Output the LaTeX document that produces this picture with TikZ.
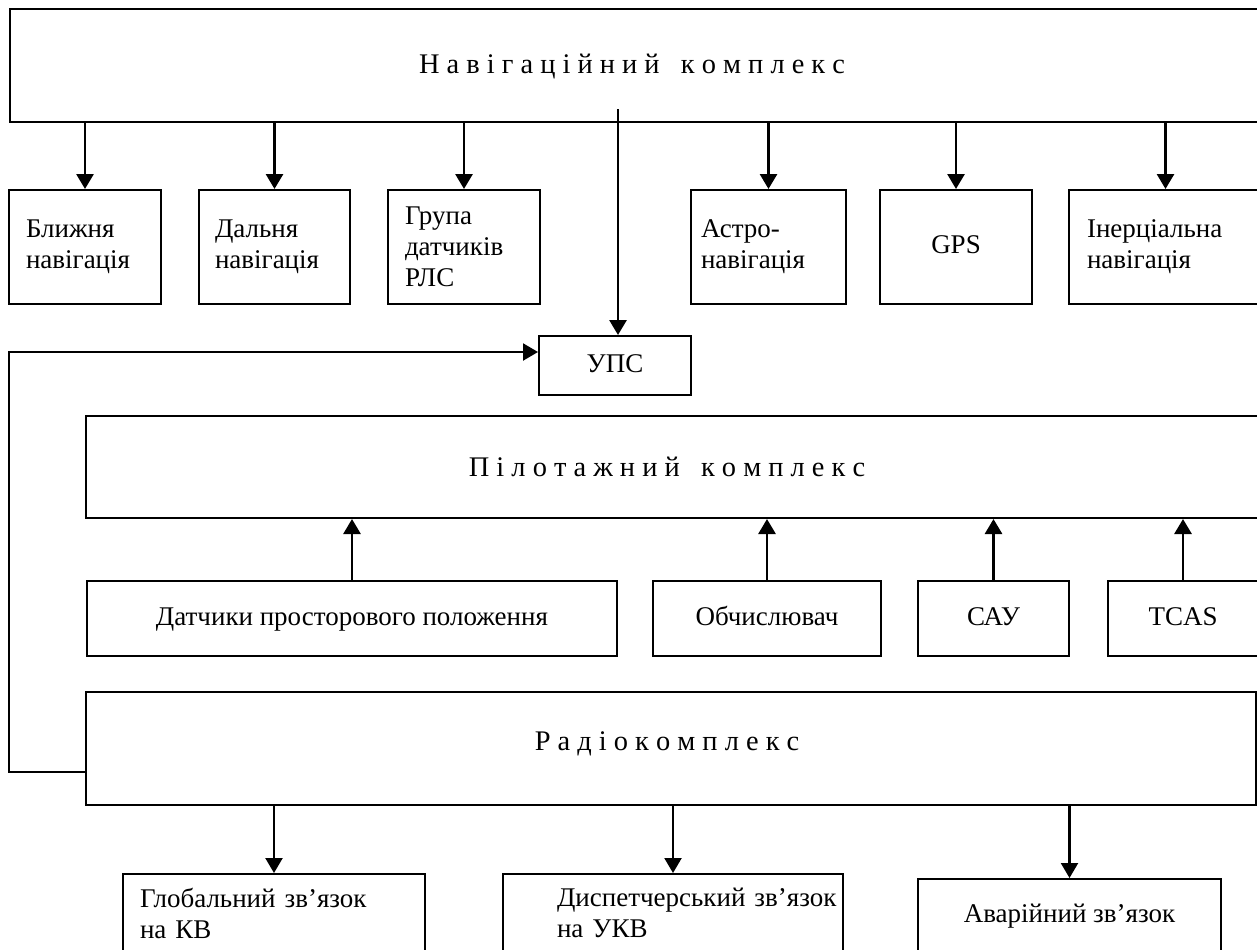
\documentclass[tikz,border=0pt]{standalone}
\usepackage{fontspec}
\setmainfont{Liberation Serif}
\usetikzlibrary{arrows.meta, positioning}
\newcommand{\boxfont}{\fontsize{13.5}{15.5}\selectfont}
\newcommand{\titlefont}{\fontsize{14.2}{16}\selectfont}

\tikzset{
  blk/.style={draw, line width=1pt, rectangle, inner sep=0pt, font=\boxfont},
  one/.style={blk, text height=9.5pt, text depth=3pt},
  arr/.style={-{Triangle[width=8.5pt,length=7.5pt]}, line width=1.4pt},
  thinarr/.style={arr, line width=1.1pt},
}

\begin{document}
\begin{tikzpicture}[x=0.5pt, y=-0.5pt]
  \useasboundingbox (0,0) rectangle (1257,949);
  \clip (0,0) rectangle (1257,949);
  \fill[white] (0,0) rectangle (1257,949);

  % Navigation complex
  \node[blk, minimum width=626pt, minimum height=56.5pt] (nav) at (636,65.5) {};
  \node[font=\titlefont] (navtext) at (632,67) {Н а в і г а ц і й н и й \ \ к о м п л е к с};

  % Navigation subsystems
  \node[blk, minimum height=57pt, align=left, text width=59pt, inner xsep=8.5pt] (near) at (85,247) {Ближня\\навігація};
  \node[blk, minimum height=57pt, align=left, text width=59.5pt, inner xsep=8pt] (far) at (274.5,247) {Дальня\\навігація};
  \node[blk, minimum height=57pt, align=left, text width=59pt, inner xsep=8.5pt] (radar) at (464,247) {Група\\датчиків\\РЛС};
  \node[blk, minimum height=57pt, align=left, text width=67.5pt, inner xsep=5pt] (astro) at (768.5,247) {Астро-\\навігація};
  \node[one, minimum width=76pt, minimum height=57pt] (gps) at (956,247) {GPS};
  \node[blk, minimum height=57pt, align=left, text width=78.5pt, inner xsep=9pt] (inert) at (1165.5,247) {Інерціальна\\навігація};

  \foreach \n in {near, far, radar, astro, gps, inert}
    \draw[arr] (nav.south -| \n.north) -- (\n.north);

  % UPS
  \node[one, minimum width=76pt, minimum height=29.5pt] (ups) at (615,365.5) {УПС};
  \coordinate (navtap) at (618,109);
  \draw[arr] (navtap) -- (navtap |- ups.north);

  % Piloting complex
  \node[blk, minimum width=588pt, minimum height=51pt] (pilot) at (674,467) {};
  \node[font=\titlefont] (pilottext) at (667,467) {П і л о т а ж н и й \ \ к о м п л е к с};

  \node[one, minimum width=265pt, minimum height=37.5pt] (sensors) at (352,618.5) {Датчики просторового положення};
  \node[one, minimum width=114pt, minimum height=37.5pt] (comp) at (767,618.5) {Обчислювач};
  \node[one, minimum width=75.5pt, minimum height=37.5pt] (sau) at (993.5,618.5) {САУ};
  \node[one, minimum width=75pt, minimum height=37.5pt] (tcas) at (1183,618.5) {TCAS};

  \foreach \n in {sensors, comp, sau, tcas}
    \draw[arr] (\n.north) -- (\n.north |- pilot.south);

  % Radio complex
  \node[blk, minimum width=585pt, minimum height=56.5pt] (radio) at (671,748.5) {};
  \node[font=\titlefont] (radiotext) at (667,744) {Р а д і о к о м п л е к с};

  \node[blk, minimum height=39pt, align=left, text width=134pt, inner xsep=8.5pt] (glob) at (274,913) {Глобальний зв’язок\\на КВ};
  \node[blk, minimum height=39pt, align=left, text width=116pt, inner xsep=27pt] (disp) at (673,913) {\mbox{Диспетчерський зв’язок}\\на УКВ};
  \node[one, minimum width=151.5pt, minimum height=36.5pt] (emerg) at (1069.5,915.5) {Аварійний зв’язок};

  \foreach \n in {glob, disp, emerg}
    \draw[thinarr] (radio.south -| \n.north) -- (\n.north);

  % Feedback to UPS
  \coordinate (loopbot) at (9,772);
  \coordinate (looptop) at (9,352);
  \draw[thinarr] (radio.west |- loopbot) -- (loopbot) -- (looptop) -- (looptop -| ups.west);
\end{tikzpicture}
\end{document}
